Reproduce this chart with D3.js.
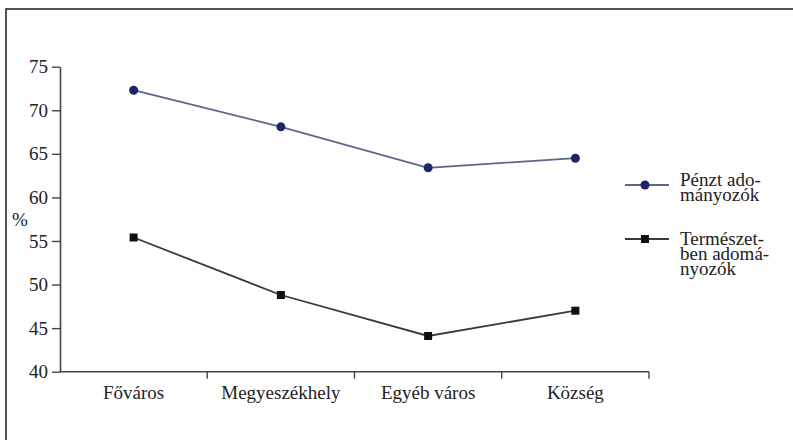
<!DOCTYPE html>
<html><head><meta charset="utf-8">
<script src="https://cdn.jsdelivr.net/npm/d3@7"></script>
</head>
<body style="margin:0">
<svg id="chart" width="793" height="440" style="display:block" font-family="Liberation Serif"></svg>
<script>
const categories = ["Főváros","Megyeszékhely","Egyéb város","Község"];
const cashDonors = [72.3, 68.1, 63.4, 64.5];
const kindDonors = [55.4, 48.8, 44.1, 47.0];
const yTicks = [40,45,50,55,60,65,70,75];
const seriesNames = [["Pénzt ado-","mányozók"],["Természet-","ben adomá-","nyozók"]];

const fs = 19;
const styleText = sel => sel.attr("font-family","Liberation Serif").attr("font-size",fs).attr("fill","#222");

const svg = d3.select("#chart");
// frame
svg.append("rect").attr("x",6).attr("y",9).attr("width",800).attr("height",450)
  .attr("fill","none").attr("stroke","#2a2a2a").attr("stroke-width",1.6);

const x = d3.scaleBand().domain(categories).range([60,649]);
const y = d3.scaleLinear().domain([40,75]).range([371.7,66.7]);

// y axis
const yAxis = svg.append("g").attr("transform","translate(60,0)")
  .call(d3.axisLeft(y).tickValues(yTicks).tickSize(8).tickPadding(4).tickSizeOuter(0));
yAxis.attr("font-family","Liberation Serif").attr("font-size",fs);
yAxis.select(".domain").attr("stroke","#444").attr("stroke-width",1.6);
yAxis.selectAll(".tick line").attr("stroke","#444").attr("stroke-width",1.4);
yAxis.selectAll("text").call(styleText);

// x axis
const xTickPos = categories.map(c=>x(c)+x.bandwidth());
const xg = svg.append("g");
xg.append("line").attr("x1",60).attr("x2",649).attr("y1",y(40)).attr("y2",y(40))
  .attr("stroke","#444").attr("stroke-width",1.6);
xg.selectAll("line.t").data(xTickPos).enter().append("line")
  .attr("x1",d=>d).attr("x2",d=>d).attr("y1",y(40)).attr("y2",y(40)+7)
  .attr("stroke","#444").attr("stroke-width",1.4);
xg.selectAll("text").data(categories).enter().append("text")
  .attr("x",d=>x(d)+x.bandwidth()/2).attr("y",399)
  .attr("text-anchor","middle").text(d=>d).call(styleText);

// % label
svg.append("text").attr("x",12).attr("y",226).text("%").call(styleText);

const cx = c => x(c)+x.bandwidth()/2;
const line = d3.line().x((d,i)=>cx(categories[i])).y(d=>y(d));

// cash series
svg.append("path").datum(cashDonors).attr("d",line).attr("fill","none")
  .attr("stroke","#5f6390").attr("stroke-width",1.8);
svg.selectAll("circle.c").data(cashDonors).enter().append("circle")
  .attr("cx",(d,i)=>cx(categories[i])).attr("cy",d=>y(d)).attr("r",4.5)
  .attr("fill","#1e2566");
// kind series
svg.append("path").datum(kindDonors).attr("d",line).attr("fill","none")
  .attr("stroke","#3a3a3a").attr("stroke-width",1.8);
svg.selectAll("rect.k").data(kindDonors).enter().append("rect")
  .attr("x",(d,i)=>cx(categories[i])-4).attr("y",d=>y(d)-4).attr("width",8).attr("height",8)
  .attr("fill","#111");

// legend
const lg = svg.append("g");
const legY = [185, 239];
lg.append("line").attr("x1",625).attr("x2",669).attr("y1",legY[0]).attr("y2",legY[0])
  .attr("stroke","#5f6390").attr("stroke-width",1.8);
lg.append("circle").attr("cx",645).attr("cy",legY[0]).attr("r",4.5).attr("fill","#1e2566");
lg.append("line").attr("x1",625).attr("x2",669).attr("y1",legY[1]).attr("y2",legY[1])
  .attr("stroke","#3a3a3a").attr("stroke-width",1.8);
lg.append("rect").attr("x",641).attr("y",legY[1]-4).attr("width",8).attr("height",8).attr("fill","#111");
const baseY = [186, 245];
seriesNames.forEach((lines,si)=>{
  lines.forEach((l,li)=>{
    lg.append("text").attr("x",680).attr("y",baseY[si]+li*15).text(l).call(styleText);
  });
});
</script>
</body></html>
